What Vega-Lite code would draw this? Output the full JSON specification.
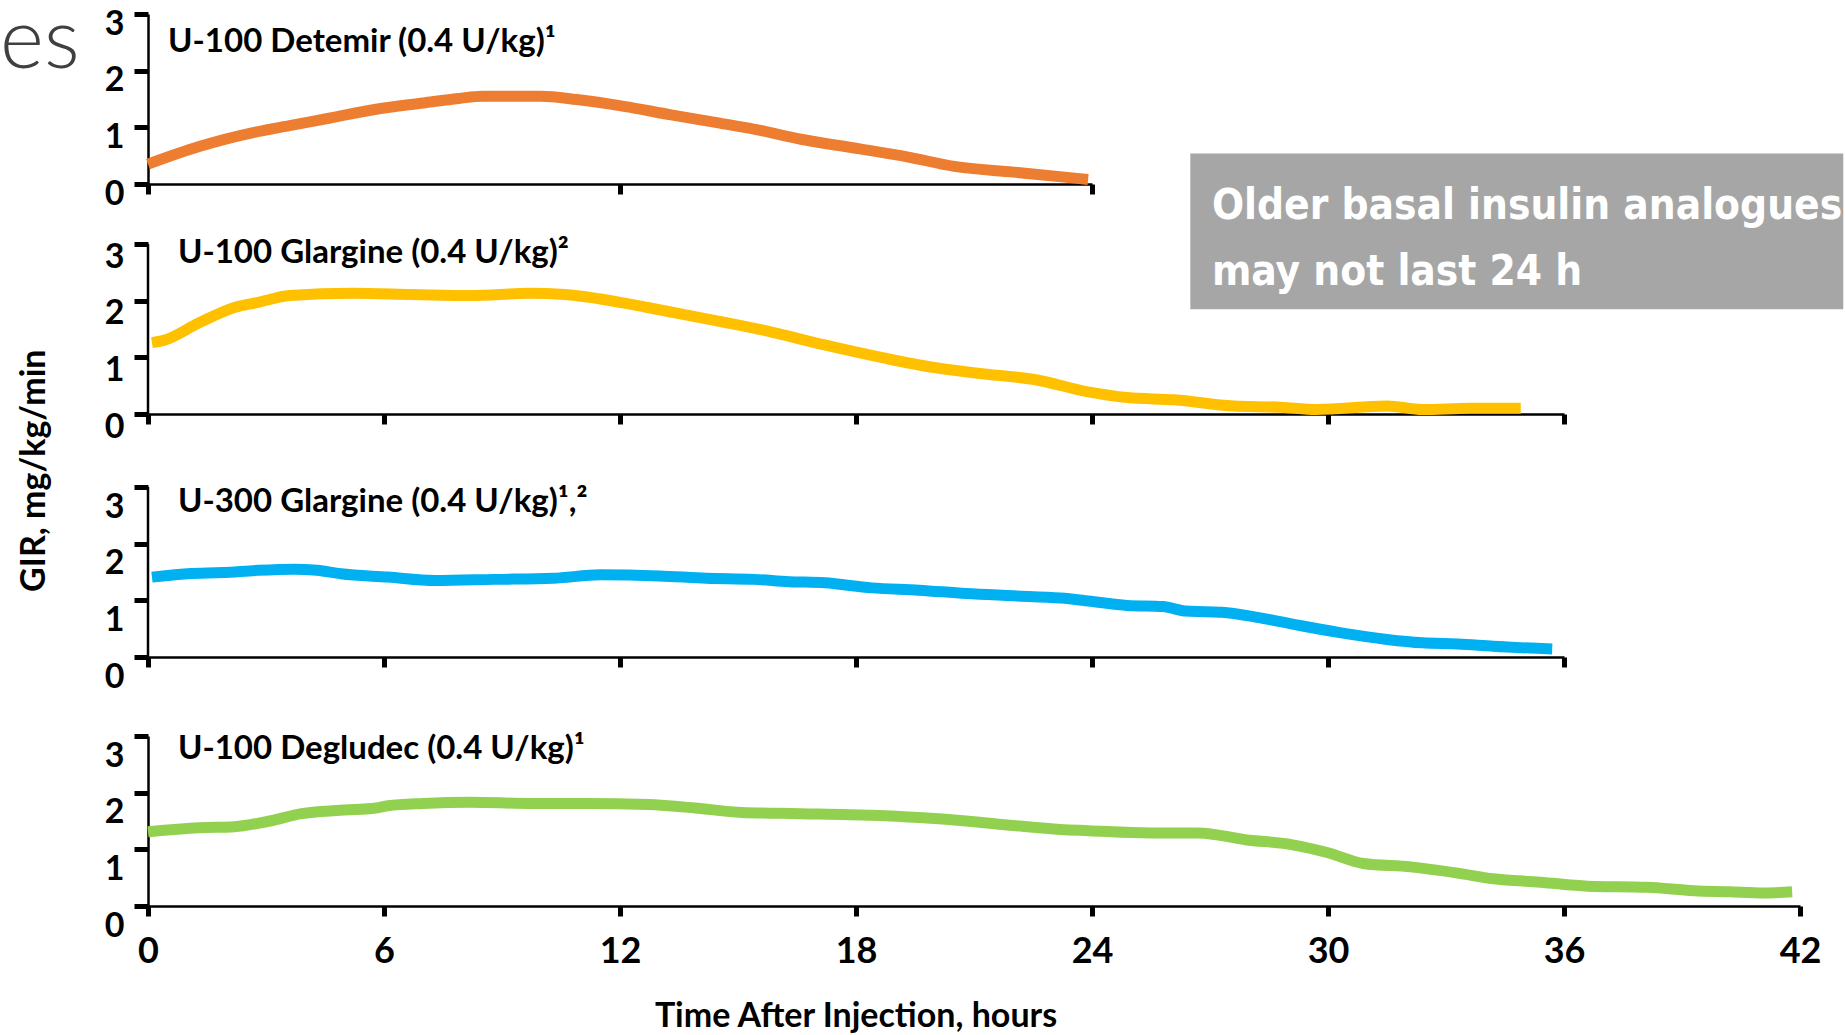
{
  "$schema": "https://vega.github.io/schema/vega-lite/v6.json",
  "padding": 0,
  "background": "white",
  "datasets": {
    "gir": [
      {"insulin": "Detemir", "hour": 0, "gir": 0.35},
      {"insulin": "Detemir", "hour": 1.3, "gir": 0.66},
      {"insulin": "Detemir", "hour": 2.7, "gir": 0.91},
      {"insulin": "Detemir", "hour": 3.6, "gir": 1.03},
      {"insulin": "Detemir", "hour": 4.6, "gir": 1.16},
      {"insulin": "Detemir", "hour": 5.8, "gir": 1.32},
      {"insulin": "Detemir", "hour": 7.0, "gir": 1.43},
      {"insulin": "Detemir", "hour": 7.9, "gir": 1.51},
      {"insulin": "Detemir", "hour": 8.5, "gir": 1.55},
      {"insulin": "Detemir", "hour": 10.0, "gir": 1.55},
      {"insulin": "Detemir", "hour": 10.9, "gir": 1.49},
      {"insulin": "Detemir", "hour": 12.1, "gir": 1.37},
      {"insulin": "Detemir", "hour": 13.3, "gir": 1.22},
      {"insulin": "Detemir", "hour": 14.5, "gir": 1.08},
      {"insulin": "Detemir", "hour": 15.4, "gir": 0.97},
      {"insulin": "Detemir", "hour": 16.6, "gir": 0.79},
      {"insulin": "Detemir", "hour": 18.1, "gir": 0.62},
      {"insulin": "Detemir", "hour": 19.3, "gir": 0.48},
      {"insulin": "Detemir", "hour": 20.5, "gir": 0.31},
      {"insulin": "Detemir", "hour": 22.0, "gir": 0.21},
      {"insulin": "Detemir", "hour": 23.9, "gir": 0.08},
      {"insulin": "Glargine U100", "hour": 0.1, "gir": 1.26},
      {"insulin": "Glargine U100", "hour": 0.4, "gir": 1.3},
      {"insulin": "Glargine U100", "hour": 1.3, "gir": 1.61},
      {"insulin": "Glargine U100", "hour": 2.2, "gir": 1.88},
      {"insulin": "Glargine U100", "hour": 2.8, "gir": 1.97},
      {"insulin": "Glargine U100", "hour": 3.6, "gir": 2.09},
      {"insulin": "Glargine U100", "hour": 5.2, "gir": 2.13},
      {"insulin": "Glargine U100", "hour": 6.7, "gir": 2.11},
      {"insulin": "Glargine U100", "hour": 8.2, "gir": 2.09},
      {"insulin": "Glargine U100", "hour": 9.7, "gir": 2.13},
      {"insulin": "Glargine U100", "hour": 10.6, "gir": 2.11},
      {"insulin": "Glargine U100", "hour": 11.5, "gir": 2.03},
      {"insulin": "Glargine U100", "hour": 12.7, "gir": 1.88},
      {"insulin": "Glargine U100", "hour": 14.2, "gir": 1.68},
      {"insulin": "Glargine U100", "hour": 15.7, "gir": 1.47},
      {"insulin": "Glargine U100", "hour": 17.2, "gir": 1.22},
      {"insulin": "Glargine U100", "hour": 18.7, "gir": 0.99},
      {"insulin": "Glargine U100", "hour": 19.9, "gir": 0.83},
      {"insulin": "Glargine U100", "hour": 21.1, "gir": 0.72},
      {"insulin": "Glargine U100", "hour": 22.6, "gir": 0.6},
      {"insulin": "Glargine U100", "hour": 23.9, "gir": 0.39},
      {"insulin": "Glargine U100", "hour": 24.9, "gir": 0.29},
      {"insulin": "Glargine U100", "hour": 26.1, "gir": 0.25},
      {"insulin": "Glargine U100", "hour": 27.6, "gir": 0.14},
      {"insulin": "Glargine U100", "hour": 28.8, "gir": 0.12},
      {"insulin": "Glargine U100", "hour": 29.7, "gir": 0.08},
      {"insulin": "Glargine U100", "hour": 31.5, "gir": 0.14},
      {"insulin": "Glargine U100", "hour": 32.4, "gir": 0.08},
      {"insulin": "Glargine U100", "hour": 33.6, "gir": 0.1},
      {"insulin": "Glargine U100", "hour": 34.9, "gir": 0.1},
      {"insulin": "Glargine U300", "hour": 0.1, "gir": 1.41},
      {"insulin": "Glargine U300", "hour": 1.0, "gir": 1.47},
      {"insulin": "Glargine U300", "hour": 1.9, "gir": 1.49},
      {"insulin": "Glargine U300", "hour": 2.8, "gir": 1.53},
      {"insulin": "Glargine U300", "hour": 3.7, "gir": 1.55},
      {"insulin": "Glargine U300", "hour": 4.3, "gir": 1.53},
      {"insulin": "Glargine U300", "hour": 4.9, "gir": 1.47},
      {"insulin": "Glargine U300", "hour": 6.1, "gir": 1.41},
      {"insulin": "Glargine U300", "hour": 7.3, "gir": 1.35},
      {"insulin": "Glargine U300", "hour": 8.8, "gir": 1.37},
      {"insulin": "Glargine U300", "hour": 10.3, "gir": 1.39},
      {"insulin": "Glargine U300", "hour": 11.5, "gir": 1.45},
      {"insulin": "Glargine U300", "hour": 13.0, "gir": 1.43},
      {"insulin": "Glargine U300", "hour": 14.2, "gir": 1.39},
      {"insulin": "Glargine U300", "hour": 15.4, "gir": 1.37},
      {"insulin": "Glargine U300", "hour": 16.3, "gir": 1.33},
      {"insulin": "Glargine U300", "hour": 17.2, "gir": 1.31},
      {"insulin": "Glargine U300", "hour": 18.4, "gir": 1.22},
      {"insulin": "Glargine U300", "hour": 19.6, "gir": 1.18},
      {"insulin": "Glargine U300", "hour": 20.8, "gir": 1.12},
      {"insulin": "Glargine U300", "hour": 22.0, "gir": 1.08},
      {"insulin": "Glargine U300", "hour": 23.2, "gir": 1.04},
      {"insulin": "Glargine U300", "hour": 23.9, "gir": 0.99},
      {"insulin": "Glargine U300", "hour": 24.9, "gir": 0.91},
      {"insulin": "Glargine U300", "hour": 25.8, "gir": 0.89},
      {"insulin": "Glargine U300", "hour": 26.4, "gir": 0.81},
      {"insulin": "Glargine U300", "hour": 27.3, "gir": 0.79},
      {"insulin": "Glargine U300", "hour": 28.2, "gir": 0.7},
      {"insulin": "Glargine U300", "hour": 29.1, "gir": 0.58},
      {"insulin": "Glargine U300", "hour": 30.3, "gir": 0.43},
      {"insulin": "Glargine U300", "hour": 31.5, "gir": 0.31},
      {"insulin": "Glargine U300", "hour": 32.4, "gir": 0.25},
      {"insulin": "Glargine U300", "hour": 33.3, "gir": 0.23},
      {"insulin": "Glargine U300", "hour": 34.2, "gir": 0.19},
      {"insulin": "Glargine U300", "hour": 35.7, "gir": 0.14},
      {"insulin": "Degludec", "hour": 0, "gir": 1.31},
      {"insulin": "Degludec", "hour": 1.3, "gir": 1.38},
      {"insulin": "Degludec", "hour": 2.2, "gir": 1.4},
      {"insulin": "Degludec", "hour": 3.1, "gir": 1.5},
      {"insulin": "Degludec", "hour": 3.9, "gir": 1.63},
      {"insulin": "Degludec", "hour": 4.9, "gir": 1.69},
      {"insulin": "Degludec", "hour": 5.8, "gir": 1.73},
      {"insulin": "Degludec", "hour": 6.1, "gir": 1.77},
      {"insulin": "Degludec", "hour": 7.0, "gir": 1.81},
      {"insulin": "Degludec", "hour": 8.2, "gir": 1.83},
      {"insulin": "Degludec", "hour": 9.7, "gir": 1.81},
      {"insulin": "Degludec", "hour": 11.2, "gir": 1.81},
      {"insulin": "Degludec", "hour": 12.7, "gir": 1.79},
      {"insulin": "Degludec", "hour": 13.9, "gir": 1.73},
      {"insulin": "Degludec", "hour": 15.1, "gir": 1.65},
      {"insulin": "Degludec", "hour": 16.6, "gir": 1.63},
      {"insulin": "Degludec", "hour": 18.4, "gir": 1.6},
      {"insulin": "Degludec", "hour": 19.6, "gir": 1.56},
      {"insulin": "Degludec", "hour": 20.8, "gir": 1.5},
      {"insulin": "Degludec", "hour": 22.0, "gir": 1.42},
      {"insulin": "Degludec", "hour": 23.2, "gir": 1.35},
      {"insulin": "Degludec", "hour": 23.9, "gir": 1.33},
      {"insulin": "Degludec", "hour": 25.5, "gir": 1.29},
      {"insulin": "Degludec", "hour": 26.7, "gir": 1.29},
      {"insulin": "Degludec", "hour": 27.9, "gir": 1.17},
      {"insulin": "Degludec", "hour": 29.1, "gir": 1.08},
      {"insulin": "Degludec", "hour": 30.0, "gir": 0.94},
      {"insulin": "Degludec", "hour": 30.9, "gir": 0.75},
      {"insulin": "Degludec", "hour": 32.1, "gir": 0.69},
      {"insulin": "Degludec", "hour": 33.3, "gir": 0.58},
      {"insulin": "Degludec", "hour": 34.2, "gir": 0.48},
      {"insulin": "Degludec", "hour": 35.4, "gir": 0.42},
      {"insulin": "Degludec", "hour": 36.6, "gir": 0.35},
      {"insulin": "Degludec", "hour": 38.1, "gir": 0.33},
      {"insulin": "Degludec", "hour": 39.3, "gir": 0.27},
      {"insulin": "Degludec", "hour": 40.2, "gir": 0.25},
      {"insulin": "Degludec", "hour": 41.1, "gir": 0.23},
      {"insulin": "Degludec", "hour": 41.8, "gir": 0.25}
    ]
  },
  "bounds": "flush",
  "spacing": 60,
  "resolve": {"scale": {"x": "independent", "y": "independent"}},
  "vconcat": [
    {
      "width": 944,
      "height": 170,
      "encoding": {
        "x": {"field": "hour", "type": "quantitative", "scale": {"domain": [0, 24], "nice": false}, "axis": {"values": [0, 12, 24], "labels": false, "title": null}},
        "y": {"field": "gir", "type": "quantitative", "scale": {"domain": [0, 3], "nice": false}, "axis": {"values": [0, 1, 2, 3], "labelOffset": 10, "title": null}}
      },
      "layer": [
        {
          "data": {"name": "gir"},
          "transform": [{"filter": "datum.insulin === 'Detemir'"}],
          "mark": {"type": "line", "color": "#ED7D31", "strokeWidth": 11, "interpolate": "monotone"}
        },
        {
          "data": {"values": [{"label": "U-100 Detemir (0.4 U/kg)¹", "hour": 0.51, "gir": 2.51}]},
          "mark": {"type": "text", "align": "left", "baseline": "middle", "font": "Lato", "fontWeight": "bold", "fontSize": 33, "color": "black"},
          "encoding": {"text": {"field": "label"}}
        },
        {
          "data": {"values": [{"label": "es", "hour": -3.76, "gir": 2.05}]},
          "mark": {"type": "text", "align": "left", "baseline": "alphabetic", "font": "Lato", "fontWeight": 300, "fontSize": 84, "color": "#404040"},
          "encoding": {"text": {"field": "label"}}
        },
        {
          "data": {"values": [{"hour": 26.5, "hour2": 43.1, "gir": 0.54, "gir2": -2.21}]},
          "mark": {"type": "rect", "color": "#A6A6A6"},
          "encoding": {"x2": {"field": "hour2"}, "y2": {"field": "gir2"}}
        },
        {
          "data": {"values": [
            {"label": "Older basal insulin analogues", "hour": 27.05, "gir": -0.62},
            {"label": "may not last 24 h", "hour": 27.05, "gir": -1.78}
          ]},
          "mark": {"type": "text", "align": "left", "baseline": "alphabetic", "font": "DejaVu Sans Condensed, Liberation Sans Narrow, Liberation Sans", "fontWeight": "bold", "fontSize": 42, "color": "white", "limit": 634, "ellipsis": "\u200b"},
          "encoding": {"text": {"field": "label"}}
        }
      ]
    },
    {
      "width": 1416,
      "height": 183,
      "encoding": {
        "x": {"field": "hour", "type": "quantitative", "scale": {"domain": [0, 36], "nice": false}, "axis": {"values": [0, 6, 12, 18, 24, 30, 36], "labels": false, "offset": -13, "title": null}},
        "y": {"field": "gir", "type": "quantitative", "scale": {"domain": [-0.229, 3], "nice": false}, "axis": {"values": [0, 1, 2, 3], "domain": false, "labelOffset": 13, "title": null}}
      },
      "layer": [
        {
          "data": {"values": [{"hour": 0, "gir": 0, "gir2": 3}]},
          "mark": {"type": "rule", "color": "black", "strokeWidth": 2.5},
          "encoding": {"y2": {"field": "gir2"}}
        },
        {
          "data": {"name": "gir"},
          "transform": [{"filter": "datum.insulin === 'Glargine U100'"}],
          "mark": {"type": "line", "color": "#FFC000", "strokeWidth": 11, "interpolate": "monotone"}
        },
        {
          "data": {"values": [{"label": "U-100 Glargine (0.4 U/kg)²", "hour": 0.76, "gir": 2.84}]},
          "mark": {"type": "text", "align": "left", "baseline": "middle", "font": "Lato", "fontWeight": "bold", "fontSize": 33, "color": "black"},
          "encoding": {"text": {"field": "label"}}
        },
        {
          "data": {"values": [{"label": "GIR, mg/kg/min", "hour": -2.87, "gir": -1.0}]},
          "mark": {"type": "text", "align": "center", "baseline": "middle", "angle": 270, "font": "Lato", "fontWeight": "bold", "fontSize": 34, "color": "black"},
          "encoding": {"text": {"field": "label"}}
        }
      ]
    },
    {
      "width": 1416,
      "height": 189,
      "encoding": {
        "x": {"field": "hour", "type": "quantitative", "scale": {"domain": [0, 36], "nice": false}, "axis": {"values": [0, 6, 12, 18, 24, 30, 36], "labels": false, "offset": -19, "title": null}},
        "y": {"field": "gir", "type": "quantitative", "scale": {"domain": [-0.335, 3], "nice": false}, "axis": {"values": [0, 1, 2, 3], "domain": false, "labelOffset": 20, "title": null}}
      },
      "layer": [
        {
          "data": {"values": [{"hour": 0, "gir": 0, "gir2": 3}]},
          "mark": {"type": "rule", "color": "black", "strokeWidth": 2.5},
          "encoding": {"y2": {"field": "gir2"}}
        },
        {
          "data": {"name": "gir"},
          "transform": [{"filter": "datum.insulin === 'Glargine U300'"}],
          "mark": {"type": "line", "color": "#00B0F0", "strokeWidth": 11, "interpolate": "monotone"}
        },
        {
          "data": {"values": [{"label": "U-300 Glargine (0.4 U/kg)¹,²", "hour": 0.76, "gir": 2.74}]},
          "mark": {"type": "text", "align": "left", "baseline": "middle", "font": "Lato", "fontWeight": "bold", "fontSize": 33, "color": "black"},
          "encoding": {"text": {"field": "label"}}
        }
      ]
    },
    {
      "width": 1652,
      "height": 170,
      "encoding": {
        "x": {"field": "hour", "type": "quantitative", "scale": {"domain": [0, 42], "nice": false}, "axis": {"values": [0, 6, 12, 18, 24, 30, 36, 42], "title": null}},
        "y": {"field": "gir", "type": "quantitative", "scale": {"domain": [0, 3], "nice": false}, "axis": {"values": [0, 1, 2, 3], "labelOffset": 20, "title": null}}
      },
      "layer": [
        {
          "data": {"name": "gir"},
          "transform": [{"filter": "datum.insulin === 'Degludec'"}],
          "mark": {"type": "line", "color": "#92D050", "strokeWidth": 11, "interpolate": "monotone"}
        },
        {
          "data": {"values": [{"label": "U-100 Degludec (0.4 U/kg)¹", "hour": 0.76, "gir": 2.77}]},
          "mark": {"type": "text", "align": "left", "baseline": "middle", "font": "Lato", "fontWeight": "bold", "fontSize": 33, "color": "black"},
          "encoding": {"text": {"field": "label"}}
        },
        {
          "data": {"values": [{"label": "Time After Injection, hours", "hour": 18, "gir": -1.96}]},
          "mark": {"type": "text", "align": "center", "baseline": "middle", "font": "Lato", "fontWeight": "bold", "fontSize": 34, "color": "black"},
          "encoding": {"text": {"field": "label"}}
        }
      ]
    }
  ],
  "config": {
    "font": "Lato",
    "view": {"stroke": null},
    "axis": {
      "grid": false,
      "domainColor": "black",
      "domainWidth": 2.5,
      "tickColor": "black",
      "tickWidth": 5,
      "labelFont": "Lato",
      "labelFontWeight": "bold",
      "labelColor": "black",
      "labelFlush": false,
      "labelOverlap": false
    },
    "axisY": {"tickSize": 14, "labelFontSize": 34, "labelPadding": 10, "labelBaseline": "middle"},
    "axisX": {"tickSize": 10, "labelFontSize": 36, "labelPadding": 18}
  }
}
